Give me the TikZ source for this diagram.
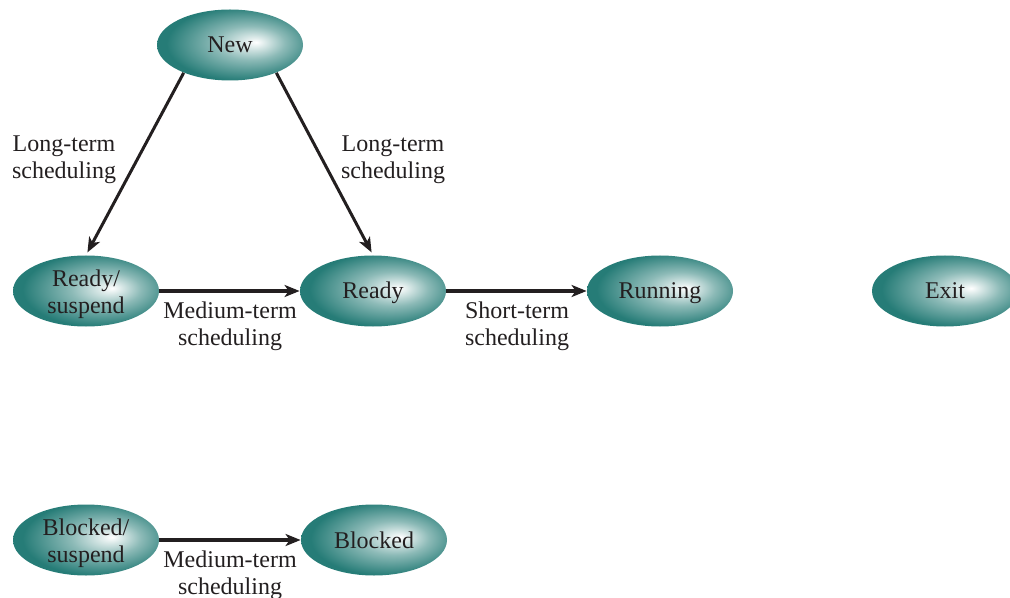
\documentclass[tikz,border=0pt]{standalone}
\usepackage{fontspec}
\setmainfont{Liberation Serif}
\usetikzlibrary{shapes.geometric,arrows.meta}
\definecolor{tealdark}{RGB}{38,124,119}
\definecolor{tealmid}{RGB}{140,186,183}
\definecolor{inkc}{RGB}{35,31,32}
\pgfdeclareradialshading{tealball}{\pgfpoint{9bp}{2bp}}{%
  color(0bp)=(white); color(12bp)=(tealmid);
  color(26bp)=(tealdark); color(50bp)=(tealdark)}
\newcommand\twolines[2]{\raisebox{-1.6pt}[15pt][9pt]{\begin{tabular}{@{}c@{}}#1\\#2\end{tabular}}}
\tikzset{
  state/.style={ellipse, shading=tealball, minimum width=73pt, minimum height=35.5pt,
    inner sep=0pt, align=center, text=inkc, font=\fontsize{12}{13.5}\selectfont,
    text height=8pt, text depth=0pt},
  twoline/.style={text height=, text depth=},
  lbl/.style={align=center, text=inkc, inner sep=0pt, font=\fontsize{12}{13.5}\selectfont},
  arr/.style={draw=inkc, line width=2pt, -{Stealth[length=7.5pt,width=6pt,inset=2pt]}},
  darr/.style={draw=inkc, line width=1.5pt, shorten >=1.5pt, -{Stealth[length=7.5pt,width=6pt,inset=2pt]}},
}
\begin{document}
\begin{tikzpicture}[x=0.5pt,y=-0.5pt]
\useasboundingbox (0,0) rectangle (1010,598);
\clip (0,0) rectangle (1010,598);
\node[state] (new) at (230,45) {New};
\node[state, twoline] (rs) at (86,291) {\twolines{Ready/}{suspend}};
\node[state] (ready) at (373,291) {Ready};
\node[state] (run) at (660,291) {Running};
\node[state] (exit) at (945,291) {Exit};
\node[state, twoline] (bs) at (86,540) {\twolines{Blocked/}{suspend}};
\node[state] (blk) at (374,540) {Blocked};

\draw[darr] (new.211) -- (rs.north);
\draw[darr] (new.329) -- (ready.north);
\draw[arr] (rs.east) -- (ready.west);
\draw[arr] (ready.east) -- (run.west);
\draw[arr] (bs.east) -- (blk.west);

\node[lbl] (l1) at (64,160) {Long-term\\scheduling};
\node[lbl] (l2) at (393,160) {Long-term\\scheduling};
\node[lbl] (l3) at (230,326) {Medium-term\\scheduling};
\node[lbl] (l4) at (517,326) {Short-term\\scheduling};
\node[lbl] (l5) at (230,575) {Medium-term\\scheduling};
\end{tikzpicture}
\end{document}
